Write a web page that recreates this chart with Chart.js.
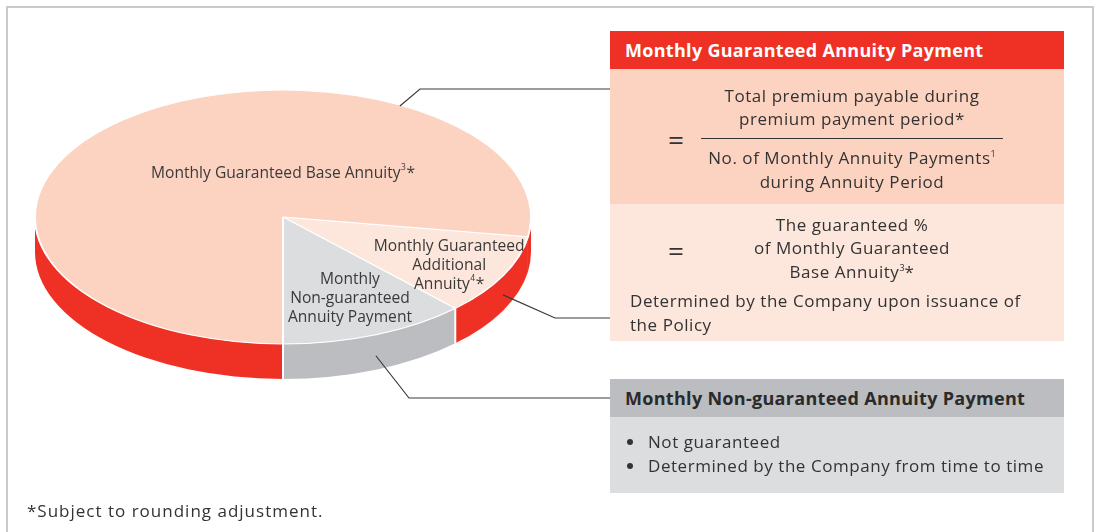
<!DOCTYPE html>
<html><head><meta charset="utf-8">
<script src="https://cdn.jsdelivr.net/npm/chart.js@4"></script>
<style>
html,body{margin:0;padding:0;background:#fff;}
#wrap{position:relative;width:1100px;height:532px;overflow:hidden;font-family:"Open Sans",sans-serif;color:#333;}
#frame{position:absolute;left:6px;top:6px;width:1088px;height:560px;border:2px solid #cacaca;box-sizing:border-box;}
#c{position:absolute;left:0;top:0;}
.blk{position:absolute;left:610px;width:454px;}
.t{position:absolute;white-space:nowrap;font-size:17px;line-height:24px;letter-spacing:0.55px;}
.ctr{left:0;width:484px;text-align:center;}
.hd{font-weight:700;font-size:18px;line-height:38px;padding-left:15px;box-sizing:border-box;letter-spacing:0.3px;}
.eq{position:absolute;left:58px;font-size:28px;line-height:28px;}
sup{font-size:9px;vertical-align:7px;line-height:0;letter-spacing:0;}
.frac{position:absolute;left:91px;width:302px;height:0;border-top:1.6px solid #333;}
.bl{position:absolute;left:15px;font-size:17px;line-height:24px;white-space:nowrap;letter-spacing:0.55px;}
.dot{display:inline-block;width:6px;height:6px;border-radius:3px;background:#333;margin-right:15px;vertical-align:3px;margin-left:2px;}
#foot{position:absolute;left:27px;top:499px;font-size:17px;letter-spacing:1px;color:#333;}
</style></head>
<body><div id="wrap">
<canvas id="c" width="1100" height="532"></canvas>
<div id="frame"></div>

<div class="blk hd" style="top:31px;height:38px;background:#EE3124;color:#fff;">Monthly Guaranteed Annuity Payment</div>
<div class="blk" style="top:69px;height:135px;background:#FCD3C1;">
  <div class="eq" style="top:56px;">=</div>
  <div class="t ctr" style="top:15px;">Total premium payable during</div>
  <div class="t ctr" style="top:38px;">premium payment period*</div>
  <div class="frac" style="top:69px;"></div>
  <div class="t ctr" style="top:77px;">No. of Monthly Annuity Payments<sup>1</sup></div>
  <div class="t ctr" style="top:101px;">during Annuity Period</div>
</div>
<div class="blk" style="top:204px;height:137px;background:#FDE6DB;">
  <div class="eq" style="top:32px;">=</div>
  <div class="t ctr" style="top:9px;">The guaranteed %</div>
  <div class="t ctr" style="top:32px;">of Monthly Guaranteed</div>
  <div class="t ctr" style="top:56px;">Base Annuity<sup>3</sup>*</div>
  <div class="t" style="top:85px;left:20px;">Determined by the Company upon issuance of</div>
  <div class="t" style="top:109px;left:20px;">the Policy</div>
</div>
<div class="blk hd" style="top:379px;height:38px;background:#BCBDC0;color:#2a2a2a;">Monthly Non-guaranteed Annuity Payment</div>
<div class="blk" style="top:417px;height:76px;background:#DCDDDE;">
  <div class="bl" style="top:13px;"><span class="dot"></span>Not guaranteed</div>
  <div class="bl" style="top:37px;"><span class="dot"></span>Determined by the Company from time to time</div>
</div>
<div id="foot">*Subject to rounding adjustment.</div>
</div>
<script>
// ---- data ----
const categories = ["Monthly Guaranteed Additional Annuity", "Monthly Non-guaranteed Annuity Payment", "Monthly Guaranteed Base Annuity"];
const sliceValues = [37, 44, 279];
const topColors = ["#FDE6DB", "#DCDDDE", "#FCD3C1"];
const sideColors = ["#EE3124", "#BCBDC0", "#EE3124"];
// label lines: [text, superscript, tail]
const sliceLabels = [
  [["Monthly Guaranteed","",""],["Additional","",""],["Annuity","4","*"]],
  [["Monthly","",""],["Non-guaranteed","",""],["Annuity Payment","",""]],
  [["Monthly Guaranteed Base Annuity","3","*"]]
];
// label anchor relative to pie centre (fractions of radii)
const labelAnchors = [[0.67,0.38],[0.27,0.64],[0,-0.345]];

const K = 127/248, DEPTH = 35, TARGET_CY = 217;

function visibleSegs(s,e){
  const TP=Math.PI*2; let d=e-s; s=((s%TP)+TP)%TP; e=s+d;
  const out=[];
  [[0,Math.PI],[TP,TP+Math.PI]].forEach(([a,b])=>{
    const lo=Math.max(a,s), hi=Math.min(b,e); if(hi>lo) out.push([lo,hi]);
  });
  return out;
}

const pie3d = {
  id:'pie3d',
  beforeDatasetsDraw(chart){
    const ctx=chart.ctx, arcs=chart.getDatasetMeta(0).data;
    const cx=arcs[0].x, cyc=arcs[0].y, R=arcs[0].outerRadius;
    const rx=R, ry=R*K, cy=TARGET_CY;
    chart.$geo={cx,cy,rx,ry};
    arcs.forEach((arc,i)=>{
      visibleSegs(arc.startAngle, arc.endAngle).forEach(([s,e])=>{
        ctx.beginPath();
        ctx.ellipse(cx,cy,rx,ry,0,s,e,false);
        ctx.ellipse(cx,cy+DEPTH,rx,ry,0,e,s,true);
        ctx.closePath();
        ctx.fillStyle=sideColors[i]; ctx.fill();
      });
    });
    ctx.strokeStyle='#fff'; ctx.lineWidth=2;
    arcs.forEach(arc=>{
      const TP=Math.PI*2; const a=((arc.startAngle%TP)+TP)%TP;
      if(a>0.2 && a<Math.PI-0.05){
        const x=cx+rx*Math.cos(a), y=cy+ry*Math.sin(a);
        ctx.beginPath(); ctx.moveTo(x,y); ctx.lineTo(x,y+DEPTH); ctx.stroke();
      }
    });
    ctx.save();
    ctx.translate(0,cy); ctx.scale(1,K); ctx.translate(0,-cyc);
  },
  afterDatasetsDraw(chart){
    chart.ctx.restore();
  },
  afterDraw(chart){
    const ctx=chart.ctx, g=chart.$geo, arcs=chart.getDatasetMeta(0).data;
    // leader lines
    ctx.save();
    ctx.strokeStyle='#3a3a3a'; ctx.lineWidth=1.2;
    const mid=(a)=>(a.startAngle+a.endAngle)/2;
    const leaders=[
      {p:[g.cx+g.rx*Math.cos(-1.08), g.cy+g.ry*Math.sin(-1.08)+1], c:[420,89], y:89},
      {p:[g.cx+g.rx*Math.cos(mid(arcs[0])), g.cy+g.ry*Math.sin(mid(arcs[0]))+DEPTH*0.55], c:[555,318], y:318},
      {p:[g.cx+g.rx*Math.cos(mid(arcs[1])), g.cy+g.ry*Math.sin(mid(arcs[1]))+DEPTH*0.6], c:[409,398], y:398}
    ];
    leaders.forEach(L=>{
      ctx.beginPath(); ctx.moveTo(L.p[0],L.p[1]); ctx.lineTo(L.c[0],L.c[1]); ctx.lineTo(610,L.y); ctx.stroke();
    });
    // slice labels
    ctx.fillStyle='#3a3a3a'; ctx.textBaseline='middle';
    const F='15.6px "Open Sans", sans-serif', FS='8.5px "Open Sans", sans-serif';
    sliceLabels.forEach((lines,i)=>{
      const ax=g.cx+labelAnchors[i][0]*g.rx, ay=g.cy+labelAnchors[i][1]*g.ry;
      const lh=19, y0=ay-(lines.length-1)*lh/2;
      lines.forEach((ln,j)=>{
        ctx.font=F; const w1=ctx.measureText(ln[0]).width, w3=ctx.measureText(ln[2]).width;
        ctx.font=FS; const w2=ln[1]?ctx.measureText(ln[1]).width+1:0;
        let x=ax-(w1+w2+w3)/2, y=y0+j*lh;
        ctx.textAlign='left';
        ctx.font=F; ctx.fillText(ln[0],x,y); x+=w1;
        if(ln[1]){ ctx.font=FS; ctx.fillText(ln[1],x+0.5,y-6); x+=w2; }
        ctx.font=F; ctx.fillText(ln[2],x,y);
      });
    });
    ctx.restore();
  }
};

new Chart(document.getElementById('c'), {
  type:'pie',
  data:{labels:categories, datasets:[{data:sliceValues, backgroundColor:topColors, borderColor:'#ffffff', borderWidth:2, clip:false}]},
  options:{
    responsive:false, animation:false, devicePixelRatio:1, events:[],
    rotation:99,
    layout:{padding:{left:34,right:568,top:17,bottom:17}},
    plugins:{legend:{display:false}, tooltip:{enabled:false}}
  },
  plugins:[pie3d]
});
</script>
</body></html>
